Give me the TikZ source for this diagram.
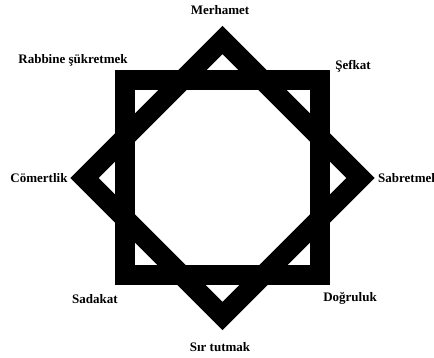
\documentclass[tikz,border=0pt]{standalone}
\usepackage{fontspec}
\setmainfont{Liberation Serif}
\begin{document}
\begin{tikzpicture}[x=1pt,y=-1pt,
  band/.style={draw=black,line width=20pt,line join=miter},
  lbl/.style={font=\fontsize{13}{15}\selectfont\bfseries,inner sep=0pt}]
\useasboundingbox (0,0) rectangle (434,358);
\coordinate (c) at (222.5,178);
% axis-aligned square
\draw[band] (125,80.5) -- (320,80.5) -- (320,275.5) -- (125,275.5) -- cycle;
% rotated square
\draw[band] (222.5,40.1) -- (360.4,178) -- (222.5,315.9) -- (84.6,178) -- cycle;
% labels
\node[lbl] (n)  at (220,10)  {Merhamet};
\node[lbl] (nw) at (73,60)   {Rabbine şükretmek};
\node[lbl] (ne) at (353,66)  {Şefkat};
\node[lbl] (w)  at (39,178)  {Cömertlik};
\node[lbl,anchor=west] (e) at (378,178) {Sabretmel};
\node[lbl] (sw) at (95,299)  {Sadakat};
\node[lbl] (se) at (350,298) {Doğruluk};
\node[lbl] (s)  at (220,347) {Sır tutmak};
\end{tikzpicture}
\end{document}
